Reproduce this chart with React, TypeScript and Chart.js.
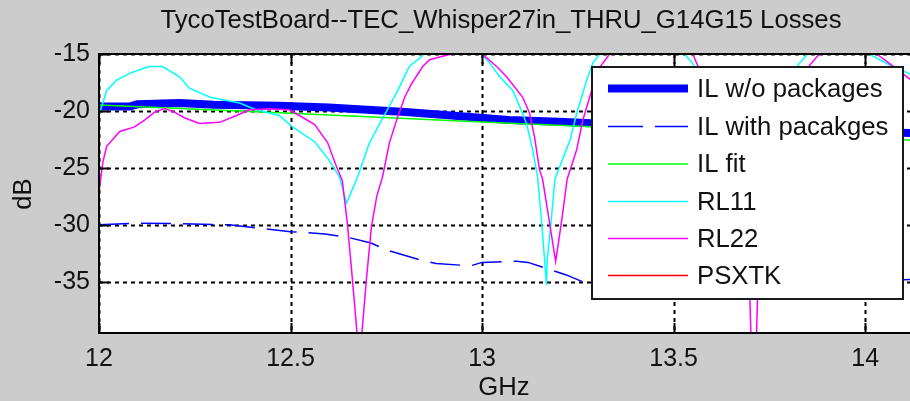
import React, { useEffect, useRef } from "react";
import { Chart, registerables } from "chart.js";

Chart.register(...registerables);

const TITLE = "TycoTestBoard--TEC_Whisper27in_THRU_G14G15 Losses";
const X_LABEL = "GHz";
const Y_LABEL = "dB";
const X_TICKS = [12, 12.5, 13, 13.5, 14];
const Y_TICKS = [-35, -30, -25, -20, -15];
const X_MIN = 12;
const X_MAX = 14.117;
const Y_MIN = -39.5;
const Y_MAX = -15;

const SERIES_NAMES = ["IL w/o packages", "IL with pacakges", "IL fit", "RL11", "RL22", "PSXTK"];

const IL_WO_FREQ = [12.0, 12.08, 12.1, 12.21, 12.3, 12.47, 12.6, 12.7, 12.8, 12.92, 13.07, 13.2, 13.3, 13.5, 13.7, 13.9, 14.12];
const IL_WO_DB = [-19.62, -19.62, -19.42, -19.3, -19.45, -19.55, -19.7, -19.9, -20.1, -20.4, -20.8, -20.95, -21.1, -21.35, -21.55, -21.75, -21.95];

const IL_WITH_FREQ = [12.0, 12.1, 12.2, 12.34, 12.42, 12.5, 12.59, 12.65, 12.71, 12.75, 12.84, 12.88, 12.97, 13.0, 13.09, 13.12, 13.22, 13.29, 13.5, 13.8, 14.12];
const IL_WITH_DB = [-30.0, -29.85, -29.9, -30.0, -30.3, -30.6, -30.8, -31.1, -31.6, -32.2, -33.1, -33.4, -33.6, -33.3, -33.2, -33.3, -34.4, -35.4, -35.6, -35.3, -34.8];

const IL_FIT_FREQ = [12.0, 12.5, 13.0, 13.5, 14.0, 14.12];
const IL_FIT_DB = [-19.47, -20.2, -20.97, -21.7, -22.4, -22.55];

const RL11_FREQ = [12.0, 12.02, 12.046, 12.08, 12.13, 12.166, 12.21, 12.236, 12.29, 12.367, 12.41, 12.47, 12.505, 12.563, 12.6, 12.628, 12.646, 12.675, 12.706, 12.738, 12.78, 12.81, 12.85, 12.9, 12.95, 13.0, 13.02, 13.046, 13.08, 13.098, 13.116, 13.132, 13.145, 13.155, 13.163, 13.168, 13.17, 13.18, 13.19, 13.23, 13.247, 13.273, 13.289, 13.307, 13.35, 13.45, 13.528, 13.549, 13.6, 13.65, 13.69, 13.73, 13.78, 13.829, 13.85, 13.9, 13.97, 14.01, 14.06, 14.12];
const RL11_DB = [-20.4, -18.2, -17.3, -16.7, -16.1, -16.1, -17.0, -18.0, -18.8, -19.3, -19.9, -20.4, -21.4, -22.7, -24.3, -25.8, -28.1, -25.8, -22.8, -20.8, -18.2, -16.1, -15.0, -13.5, -13.5, -15.0, -15.8, -17.0, -18.2, -19.6, -21.1, -23.4, -25.8, -29.6, -33.0, -35.3, -33.1, -29.8, -26.0, -22.5, -20.2, -17.3, -15.8, -15.0, -13.5, -13.5, -15.0, -15.8, -19.0, -25.0, -31.0, -24.0, -18.0, -15.8, -15.0, -13.5, -13.8, -15.0, -15.9, -16.8];

const RL22_FREQ = [12.0, 12.01, 12.02, 12.054, 12.093, 12.119, 12.145, 12.171, 12.197, 12.223, 12.262, 12.315, 12.359, 12.393, 12.445, 12.497, 12.523, 12.563, 12.597, 12.62, 12.635, 12.648, 12.66, 12.68, 12.698, 12.711, 12.725, 12.74, 12.758, 12.777, 12.798, 12.816, 12.845, 12.863, 12.897, 12.92, 12.96, 13.0, 13.038, 13.064, 13.106, 13.124, 13.137, 13.15, 13.158, 13.176, 13.192, 13.207, 13.222, 13.247, 13.263, 13.281, 13.3, 13.333, 13.4, 13.47, 13.55, 13.6, 13.65, 13.68, 13.699, 13.709, 13.719, 13.74, 13.78, 13.83, 13.88, 13.93, 13.99, 14.03, 14.07, 14.12];
const RL22_DB = [-27.1, -24.5, -23.1, -21.8, -21.4, -20.8, -20.1, -19.8, -20.1, -20.6, -21.1, -21.0, -20.4, -19.9, -19.8, -19.9, -20.4, -21.2, -22.8, -24.9, -26.1, -29.8, -34.2, -42.0, -34.8, -30.2, -27.5, -25.8, -22.8, -20.8, -18.8, -17.6, -16.1, -15.5, -15.2, -15.0, -14.0, -15.0, -16.1, -17.0, -18.8, -20.2, -22.3, -25.2, -26.0, -29.8, -33.2, -29.8, -26.0, -23.4, -20.8, -18.8, -16.5, -15.0, -13.5, -14.0, -15.0, -19.0, -26.0, -32.0, -36.5, -48.0, -36.5, -28.0, -21.0, -17.0, -15.0, -13.8, -14.0, -15.0, -16.0, -17.3];

const PSXTK_FREQ = [12.0, 12.5, 13.0, 13.5, 14.0, 14.12];
const PSXTK_DB = [-52.0, -51.0, -50.5, -50.0, -49.5, -49.5];

const SERIES_COLORS = ["#0000ff", "#0000ff", "#00ff00", "#00ffff", "#ff00ff", "#ff0000"];
const SERIES_WIDTHS = [8, 1.5, 1.5, 1.5, 1.5, 1.5];
const SERIES_DASHES: number[][] = [[], [30, 12], [], [], [], []];

const FONT = "'Liberation Sans', Arial, sans-serif";
const BG = "#cccccc";
const TEXT = "#111111";

function pts(xs: number[], ys: number[]) {
  return xs.map((x, i) => ({ x, y: ys[i] }));
}

const decorPlugin = {
  id: "matlabDecor",
  beforeDraw(chart: any) {
    const { ctx, chartArea } = chart;
    ctx.save();
    ctx.fillStyle = BG;
    ctx.fillRect(0, 0, chart.width, chart.height);
    ctx.fillStyle = "#ffffff";
    ctx.fillRect(chartArea.left, chartArea.top, chartArea.right - chartArea.left, chartArea.bottom - chartArea.top);
    ctx.restore();
  },
  beforeDatasetsDraw(chart: any) {
    const { ctx, chartArea, scales } = chart;
    const xs = scales.x;
    const ys = scales.y;
    ctx.save();
    ctx.strokeStyle = "#000000";
    ctx.lineWidth = 2;
    ctx.setLineDash([4, 4]);
    X_TICKS.forEach((v) => {
      const px = Math.round(xs.getPixelForValue(v)) + 0.5;
      ctx.beginPath();
      ctx.moveTo(px, chartArea.top);
      ctx.lineTo(px, chartArea.bottom);
      ctx.stroke();
    });
    Y_TICKS.forEach((v) => {
      const py = Math.round(ys.getPixelForValue(v)) + 0.5;
      ctx.beginPath();
      ctx.moveTo(chartArea.left, py);
      ctx.lineTo(chartArea.right, py);
      ctx.stroke();
    });
    ctx.restore();
  },
  afterDatasetsDraw(chart: any) {
    const { ctx, chartArea, scales } = chart;
    const xs = scales.x;
    const ys = scales.y;
    const { left, right, top, bottom } = chartArea;
    ctx.save();
    ctx.strokeStyle = "#000000";
    ctx.lineWidth = 2;
    ctx.setLineDash([]);
    ctx.beginPath();
    ctx.moveTo(right + 2, top);
    ctx.lineTo(left, top);
    ctx.lineTo(left, bottom);
    ctx.lineTo(right + 2, bottom);
    ctx.stroke();
    const tl = 10;
    X_TICKS.forEach((v) => {
      const px = Math.round(xs.getPixelForValue(v)) + 0.5;
      ctx.beginPath();
      ctx.moveTo(px, bottom);
      ctx.lineTo(px, bottom - tl);
      ctx.moveTo(px, top);
      ctx.lineTo(px, top + tl);
      ctx.stroke();
    });
    Y_TICKS.forEach((v) => {
      const py = Math.round(ys.getPixelForValue(v)) + 0.5;
      ctx.beginPath();
      ctx.moveTo(left, py);
      ctx.lineTo(left + tl, py);
      ctx.stroke();
    });
    ctx.restore();

    // legend
    ctx.save();
    const lx = 592, ly = 67, lw = 311, lh = 232;
    ctx.fillStyle = "#ffffff";
    ctx.fillRect(lx, ly, lw, lh);
    ctx.strokeStyle = "#1a1a1a";
    ctx.lineWidth = 2;
    ctx.strokeRect(lx, ly, lw, lh);
    const rows = [88.5, 126.5, 164, 201.5, 238.5, 275.5];
    ctx.font = `25.7px ${FONT}`;
    ctx.textBaseline = "middle";
    ctx.textAlign = "left";
    SERIES_NAMES.forEach((name, i) => {
      const y = rows[i];
      ctx.strokeStyle = SERIES_COLORS[i];
      ctx.lineWidth = SERIES_WIDTHS[i];
      ctx.setLineDash(SERIES_DASHES[i].length ? [35, 12] : []);
      ctx.beginPath();
      ctx.moveTo(608, y);
      ctx.lineTo(688, y);
      ctx.stroke();
      ctx.setLineDash([]);
      ctx.fillStyle = TEXT;
      ctx.fillText(name, 697, y + 1);
    });
    ctx.restore();
  },
  afterDraw(chart: any) {
    const { ctx } = chart;
    ctx.save();
    ctx.fillStyle = TEXT;
    ctx.font = `25.7px ${FONT}`;
    ctx.textAlign = "center";
    ctx.textBaseline = "middle";
    ctx.fillText(TITLE, 501, 21);
    ctx.fillText(X_LABEL, 504, 388);
    ctx.translate(24, 194);
    ctx.rotate(-Math.PI / 2);
    ctx.fillText(Y_LABEL, 0, 0);
    ctx.restore();
  },
};

export default function App() {
  const ref = useRef<HTMLCanvasElement | null>(null);
  useEffect(() => {
    if (!ref.current) return;
    const mk = (i: number, xs: number[], ys: number[], order: number) => ({
      label: SERIES_NAMES[i],
      data: pts(xs, ys),
      borderColor: SERIES_COLORS[i],
      backgroundColor: SERIES_COLORS[i],
      borderWidth: SERIES_WIDTHS[i],
      borderDash: SERIES_DASHES[i],
      pointRadius: 0,
      tension: 0,
      fill: false,
      clip: 0,
      order,
    });
    const chart = new Chart(ref.current, {
      type: "line",
      data: {
        datasets: [
          mk(0, IL_WO_FREQ, IL_WO_DB, 5),
          mk(1, IL_WITH_FREQ, IL_WITH_DB, 4),
          mk(2, IL_FIT_FREQ, IL_FIT_DB, 3),
          mk(3, RL11_FREQ, RL11_DB, 2),
          mk(4, RL22_FREQ, RL22_DB, 1),
          mk(5, PSXTK_FREQ, PSXTK_DB, 0),
        ] as any,
      },
      options: {
        animation: false,
        responsive: false,
        devicePixelRatio: 1,
        layout: { padding: { left: 0, top: 54, right: 0, bottom: 0 } },
        plugins: { legend: { display: false }, title: { display: false }, tooltip: { enabled: false } },
        scales: {
          x: {
            type: "linear",
            min: X_MIN,
            max: X_MAX,
            grid: { display: false, drawTicks: false },
            border: { display: false },
            afterBuildTicks: (s: any) => {
              s.ticks = X_TICKS.map((v) => ({ value: v }));
            },
            afterFit: (s: any) => {
              s.height = 68;
            },
            ticks: {
              padding: 11,
              maxRotation: 0,
              autoSkip: false,
              color: TEXT,
              font: { family: FONT, size: 25 },
              callback: (v: any) => String(v),
            },
          },
          y: {
            type: "linear",
            min: Y_MIN,
            max: Y_MAX,
            grid: { display: false, drawTicks: false },
            border: { display: false },
            afterBuildTicks: (s: any) => {
              s.ticks = Y_TICKS.map((v) => ({ value: v }));
            },
            afterFit: (s: any) => {
              s.width = 99;
            },
            ticks: {
              padding: 9,
              autoSkip: false,
              color: TEXT,
              font: { family: FONT, size: 25 },
              callback: (v: any) => String(v),
            },
          },
        },
      },
      plugins: [decorPlugin],
    });
    return () => chart.destroy();
  }, []);
  return (
    <div style={{ position: "fixed", left: 0, top: 0, width: 910, height: 401, background: BG, overflow: "hidden" }}>
      <canvas ref={ref} width={910} height={401} style={{ display: "block", width: 910, height: 401 }} />
    </div>
  );
}
